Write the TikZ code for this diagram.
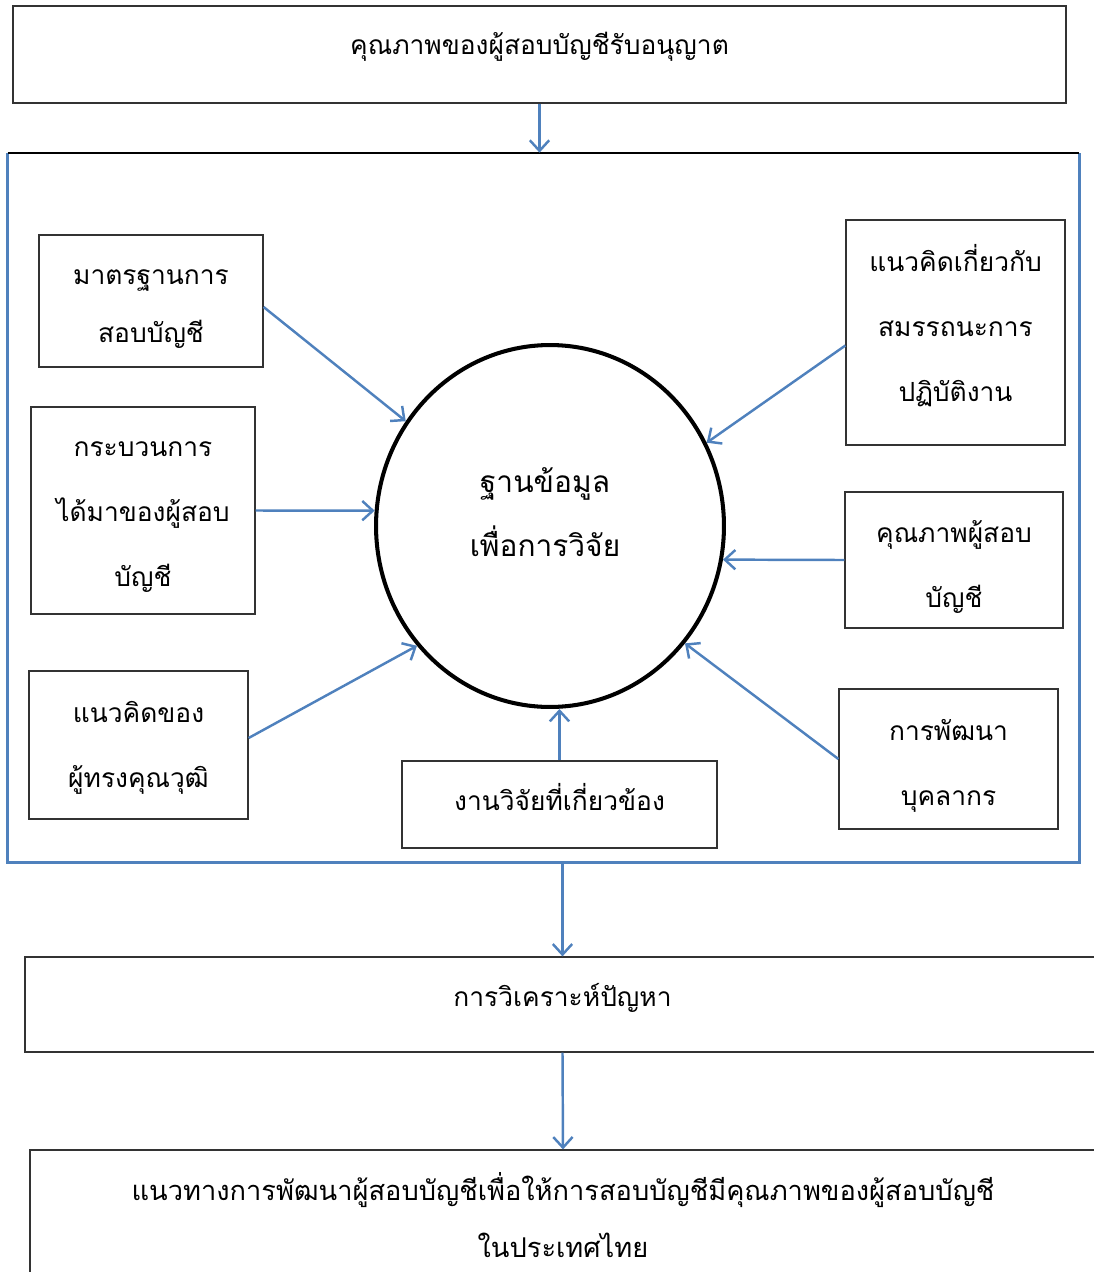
\documentclass[tikz,border=0pt]{standalone}
\usepackage{fontspec}
\newfontfamily\thaifont[Script=Thai]{Loma}
\usetikzlibrary{arrows.meta,shapes.geometric,fit}
\definecolor{linkblue}{RGB}{79,129,189}

\begin{document}
\begin{tikzpicture}[x=0.02cm,y=-0.02cm,
  txt/.style={font=\thaifont\fontsize{15}{37}\selectfont,align=center,inner sep=0pt},
  box/.style={draw=black!80,line width=0.7pt,inner sep=0pt},
  link/.style={draw=linkblue,line width=1.4pt,-{Straight Barb[length=6pt,width=11pt]}}]

\useasboundingbox (0,0) rectangle (1094,1272);

% top and frame
\node[box, fit={(13,6) (1066,103)}] (top) {};
\node[txt] at ([shift={(0,-8)}]top.center) {คุณภาพของผู้สอบบัญชีรับอนุญาต};
\node[inner sep=0pt, fit={(8,153) (1079,862)}] (frame) {};
\draw[linkblue, line width=1.4pt] (frame.north west) -- (frame.south west) -- (frame.south east) -- (frame.north east);
\draw[line width=1.3pt] (frame.north west) -- (frame.north east);

% centre
\node[draw, ellipse, line width=2.3pt, inner sep=0pt,
  minimum width=6.96cm, minimum height=7.24cm] (db) at (550,526) {};
\node[txt, font=\thaifont\fontsize{17}{36}\selectfont] at ([shift={(-5,-14)}]db.center) {ฐานข้อมูล\\เพื่อการวิจัย};

% inputs
\node[box, fit={(39,235) (263,367)}] (std) {};
\node[txt, font=\thaifont\fontsize{15}{33}\selectfont] at ([shift={(0,8)}]std.center) {มาตรฐานการ\\สอบบัญชี};
\node[box, fit={(31,407) (255,614)}] (acq) {};
\node[txt] at ([shift={(0,7)}]acq.center) {กระบวนการ\\ได้มาของผู้สอบ\\บัญชี};
\node[box, fit={(29,671) (248,819)}] (expert) {};
\node[txt] at ([shift={(0,3)}]expert.center) {แนวคิดของ\\ผู้ทรงคุณวุฒิ};
\node[box, fit={(402,761) (717,848)}] (rel) {};
\node[txt] at ([shift={(0,-7)}]rel.center) {งานวิจัยที่เกี่ยวข้อง};
\node[box, fit={(839,689) (1058,829)}] (dev) {};
\node[txt] at ([shift={(0,7)}]dev.center) {การพัฒนา\\บุคลากร};
\node[box, fit={(845,492) (1063,628)}] (qual) {};
\node[txt] at ([shift={(0,7)}]qual.center) {คุณภาพผู้สอบ\\บัญชี};
\node[box, fit={(846,220) (1065,445)}] (comp) {};
\node[txt] at ([shift={(0,-7)}]comp.center) {แนวคิดเกี่ยวกับ\\สมรรถนะการ\\ปฏิบัติงาน};

% outputs
\node[box, fit={(25,957) (1100,1052)}] (ana) {};
\node[txt] at ([shift={(0,-7)}]ana.center) {การวิเคราะห์ปัญหา};
\node[box, fit={(30,1150) (1096,1300)}] (guide) {};
\node[txt, font=\thaifont\fontsize{15.5}{32}\selectfont] at ([shift={(0,-10)}]guide.center) {แนวทางการพัฒนาผู้สอบบัญชีเพื่อให้การสอบบัญชีมีคุณภาพของผู้สอบบัญชี\\ในประเทศไทย};

\draw[link] (top.south) -- (top.south |- frame.north);
\draw[link] ([yshift=-0.12cm]std.east) -- (db.144);
\draw[link] (acq.east) -- (db.175);
\draw[link] ([yshift=0.14cm]expert.east) -- (db.222);
\draw[link] (rel.north) -- (rel.north |- db.south);
\draw[link] (dev.west) -- (db.319);
\draw[link] (qual.west) -- (db.349);
\draw[link] ([yshift=-0.26cm]comp.west) -- (db.28);
\draw[link] (frame.south -| ana.north) -- (ana.north);
\draw[link] (ana.south) -- (guide.north);
\end{tikzpicture}
\end{document}
